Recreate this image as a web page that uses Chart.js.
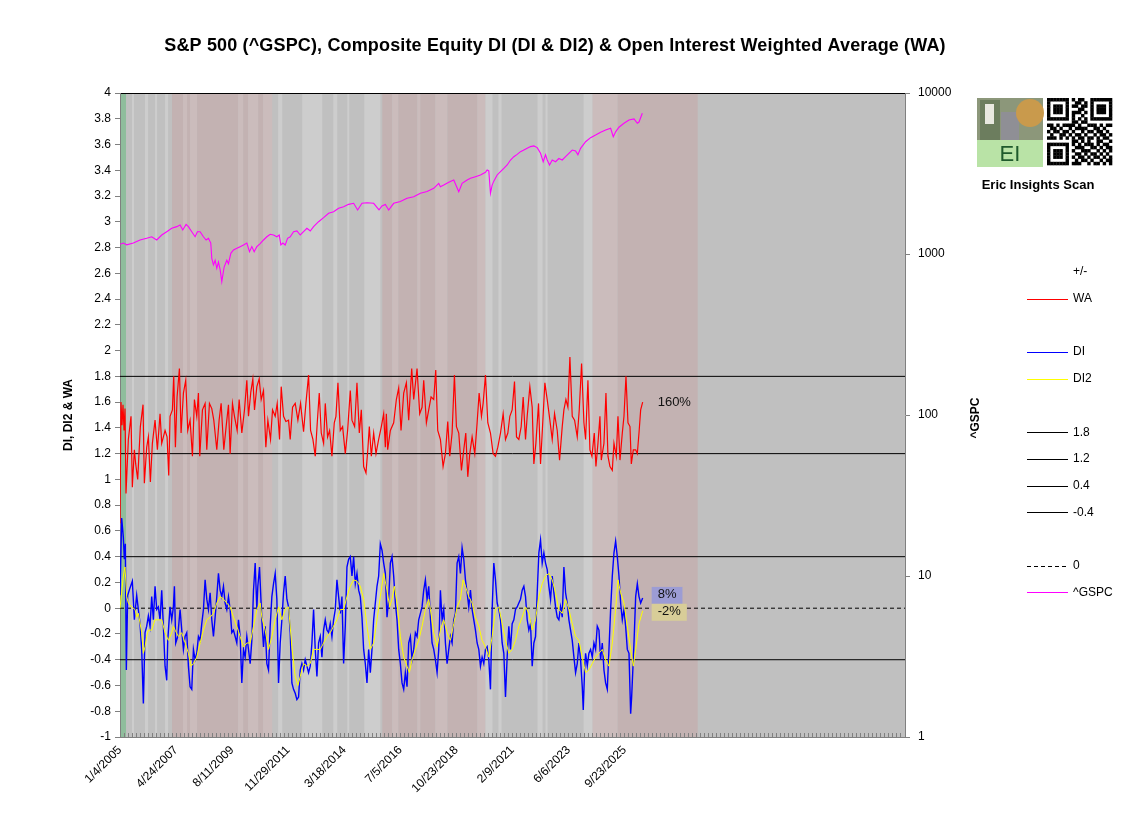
<!DOCTYPE html>
<html>
<head>
<meta charset="utf-8">
<script src="https://cdn.jsdelivr.net/npm/chart.js@4/dist/chart.umd.min.js"></script>
<style>
  html, body { margin: 0; background: #fff; }
  canvas { display: block; }
</style>
</head>
<body>
<canvas id="diChart" width="1138" height="825"></canvas>
<script>
// x values are calendar days counted from 1/4/2005
const xTickLabels = ['1/4/2005', '4/24/2007', '8/11/2009', '11/29/2011', '3/18/2014',
    '7/5/2016', '10/23/2018', '2/9/2021', '6/6/2023', '9/23/2025'];
const labelStepDays = 840;
const minorStepDays = 60;
const axisEndDays = 11760;
const leftTicksStep = 0.2;
const gspcTicks = [1, 10, 100, 1000, 10000];
const refLevels = [1.8, 1.2, 0.4, -0.4];
const zeroLevel = 0;

const waDays = [
    0, 15, 30, 45, 60, 75, 90, 125, 165, 185,
    215, 235, 265, 305, 345, 365, 400, 425, 455, 485,
    525, 560, 600, 625, 675, 705, 730, 750, 785, 805,
    830, 855, 890, 915, 950, 985, 1015, 1050, 1085, 1115,
    1150, 1175, 1195, 1235, 1275, 1300, 1340, 1375, 1405, 1450,
    1485, 1515, 1555, 1590, 1625, 1650, 1685, 1715, 1755, 1785,
    1825, 1865, 1900, 1925, 1960, 1990, 2015, 2050, 2085, 2115,
    2150, 2185, 2215, 2255, 2285, 2325, 2355, 2390, 2415, 2450,
    2485, 2525, 2550, 2585, 2625, 2665, 2705, 2750, 2785, 2825,
    2855, 2890, 2925, 2955, 2985, 3015, 3050, 3075, 3110, 3140,
    3175, 3210, 3235, 3265, 3300, 3335, 3375, 3410, 3450, 3475,
    3515, 3550, 3585, 3615, 3650, 3685, 3715, 3735, 3765, 3800,
    3835, 3875, 3915, 3950, 3975, 3990, 4010, 4050, 4100, 4140,
    4175, 4210, 4250, 4290, 4325, 4370, 4400, 4450, 4490, 4525,
    4550, 4590, 4625, 4660, 4700, 4730, 4760, 4800, 4840, 4875,
    4910, 4940, 4975, 5010, 5040, 5075, 5115, 5150, 5180, 5210,
    5240, 5275, 5315, 5350, 5380, 5415, 5440, 5475, 5510, 5550,
    5590, 5625, 5660, 5700, 5740, 5775, 5810, 5840, 5875, 5910,
    5940, 5975, 6010, 6040, 6075, 6100, 6140, 6175, 6200, 6230,
    6270, 6300, 6330, 6365, 6400, 6440, 6475, 6510, 6550, 6585,
    6625, 6650, 6680, 6710, 6740, 6775, 6810, 6850, 6880, 6915,
    6950, 6975, 7010, 7040, 7070, 7105, 7130, 7160, 7190, 7210,
    7250, 7280, 7310, 7340, 7375, 7400, 7435, 7460, 7490, 7525,
    7550, 7580, 7610, 7640, 7660, 7690, 7725, 7750, 7775, 7800,
    7830
];
const waValues = [
    0.66, 1.60, 1.42, 1.58, 1.38, 1.55, 0.89, 1.31, 1.49, 0.94,
    1.23, 1.12, 1.00, 1.41, 1.58, 0.97, 1.25, 1.33, 0.98, 1.28,
    1.46, 1.23, 1.51, 1.28, 1.38, 1.33, 1.03, 1.49, 1.54, 1.80,
    1.25, 1.64, 1.86, 1.36, 1.67, 1.77, 1.38, 1.46, 1.18, 1.62,
    1.49, 1.67, 1.18, 1.54, 1.59, 1.23, 1.59, 1.55, 1.46, 1.23,
    1.46, 1.59, 1.23, 1.41, 1.58, 1.20, 1.59, 1.49, 1.38, 1.62,
    1.36, 1.54, 1.77, 1.49, 1.68, 1.78, 1.54, 1.72, 1.78, 1.62,
    1.69, 1.25, 1.46, 1.31, 1.54, 1.49, 1.59, 1.31, 1.72, 1.49,
    1.45, 1.46, 1.31, 1.56, 1.59, 1.46, 1.59, 1.37, 1.59, 1.81,
    1.38, 1.31, 1.18, 1.44, 1.67, 1.36, 1.28, 1.59, 1.33, 1.38,
    1.18, 1.44, 1.49, 1.75, 1.38, 1.41, 1.20, 1.38, 1.69, 1.46,
    1.41, 1.75, 1.36, 1.54, 1.10, 1.05, 1.25, 1.41, 1.18, 1.36,
    1.20, 1.31, 1.41, 1.51, 1.25, 1.51, 1.23, 1.38, 1.44, 1.62,
    1.71, 1.38, 1.67, 1.75, 1.46, 1.86, 1.62, 1.86, 1.51, 1.56,
    1.77, 1.44, 1.54, 1.64, 1.62, 1.85, 1.38, 1.31, 1.10, 1.20,
    1.45, 1.18, 1.36, 1.81, 1.41, 1.36, 1.07, 1.23, 1.36, 1.02,
    1.20, 1.33, 1.20, 1.44, 1.67, 1.49, 1.59, 1.81, 1.44, 1.36,
    1.20, 1.18, 1.25, 1.36, 1.51, 1.31, 1.36, 1.49, 1.54, 1.76,
    1.33, 1.31, 1.41, 1.64, 1.31, 1.49, 1.72, 1.56, 1.12, 1.28,
    1.59, 1.12, 1.41, 1.75, 1.62, 1.46, 1.31, 1.51, 1.38, 1.15,
    1.41, 1.54, 1.62, 1.56, 1.95, 1.49, 1.46, 1.33, 1.54, 1.90,
    1.44, 1.31, 1.77, 1.23, 1.18, 1.36, 1.10, 1.28, 1.49, 1.15,
    1.28, 1.67, 1.18, 1.10, 1.07, 1.28, 1.18, 1.49, 1.15, 1.36,
    1.49, 1.80, 1.44, 1.41, 1.12, 1.23, 1.23, 1.20, 1.36, 1.54,
    1.60
];

const diDays = [
    0, 25, 50, 65, 80, 95, 115, 145, 185, 215,
    250, 275, 300, 325, 350, 375, 400, 425, 450, 475,
    500, 525, 550, 575, 600, 625, 650, 675, 700, 715,
    750, 775, 800, 815, 835, 865, 900, 925, 950, 975,
    1000, 1025, 1050, 1075, 1100, 1125, 1150, 1175, 1200, 1225,
    1250, 1275, 1300, 1325, 1350, 1375, 1400, 1425, 1450, 1475,
    1500, 1525, 1550, 1575, 1600, 1625, 1650, 1675, 1700, 1725,
    1750, 1775, 1800, 1825, 1850, 1875, 1900, 1925, 1950, 1975,
    2000, 2025, 2050, 2065, 2090, 2125, 2150, 2175, 2200, 2225,
    2250, 2275, 2300, 2325, 2350, 2375, 2400, 2425, 2450, 2475,
    2500, 2525, 2550, 2575, 2600, 2625, 2650, 2675, 2700, 2725,
    2750, 2775, 2800, 2825, 2850, 2875, 2900, 2925, 2950, 2975,
    3000, 3025, 3050, 3075, 3100, 3125, 3150, 3175, 3200, 3225,
    3250, 3275, 3300, 3325, 3350, 3375, 3400, 3425, 3450, 3475,
    3500, 3525, 3550, 3575, 3600, 3625, 3650, 3675, 3700, 3725,
    3750, 3775, 3800, 3825, 3850, 3875, 3900, 3925, 3950, 3975,
    4000, 4025, 4050, 4075, 4100, 4125, 4150, 4175, 4200, 4225,
    4250, 4275, 4300, 4325, 4350, 4375, 4400, 4425, 4450, 4475,
    4500, 4525, 4550, 4575, 4600, 4625, 4650, 4675, 4700, 4725,
    4750, 4775, 4800, 4825, 4850, 4875, 4900, 4925, 4950, 4975,
    5000, 5025, 5050, 5075, 5100, 5125, 5150, 5175, 5200, 5225,
    5250, 5275, 5300, 5325, 5350, 5375, 5400, 5425, 5450, 5475,
    5500, 5525, 5550, 5575, 5600, 5625, 5650, 5675, 5700, 5725,
    5750, 5775, 5800, 5825, 5850, 5875, 5900, 5925, 5950, 5975,
    6000, 6025, 6050, 6075, 6100, 6125, 6150, 6175, 6200, 6225,
    6250, 6275, 6300, 6325, 6350, 6375, 6400, 6425, 6450, 6475,
    6500, 6525, 6550, 6575, 6600, 6625, 6650, 6675, 6700, 6725,
    6750, 6775, 6800, 6825, 6850, 6875, 6900, 6925, 6940, 6960,
    6975, 7000, 7025, 7050, 7075, 7100, 7125, 7150, 7175, 7200,
    7225, 7250, 7275, 7300, 7325, 7350, 7375, 7400, 7425, 7450,
    7475, 7500, 7525, 7550, 7575, 7600, 7625, 7650, 7665, 7685,
    7700, 7725, 7750, 7775, 7800, 7830
];
const diValues = [
    0.10, 0.70, 0.55, 0.38, 0.50, -0.48, 0.10, 0.15, 0.21, -0.09,
    0.10, -0.01, -0.12, -0.32, -0.74, -0.19, -0.14, -0.06, -0.14, 0.09,
    -0.09, 0.17, -0.01, 0.01, -0.09, 0.14, -0.14, -0.45, -0.56, -0.25,
    0.01, -0.09, 0.01, 0.17, -0.27, -0.22, -0.01, -0.17, -0.32, -0.22,
    -0.19, -0.45, -0.61, -0.63, -0.32, -0.40, -0.35, -0.22, -0.25, -0.12,
    -0.01, 0.22, 0.07, -0.01, 0.12, -0.09, -0.22, -0.07, 0.09, 0.27,
    0.14, 0.09, 0.17, 0.04, -0.01, 0.09, -0.01, -0.19, -0.17, -0.22,
    -0.27, -0.09, -0.22, -0.58, -0.32, -0.38, -0.22, -0.32, -0.43, -0.25,
    0.14, 0.35, -0.01, 0.17, 0.32, -0.09, -0.30, -0.14, -0.43, -0.48,
    -0.14, 0.09, 0.19, 0.27, 0.07, -0.58, -0.27, -0.09, 0.12, 0.25,
    0.07, 0.01, -0.19, -0.58, -0.63, -0.66, -0.71, -0.69, -0.48, -0.43,
    -0.48, -0.40, -0.45, -0.50, -0.45, -0.27, -0.01, -0.32, -0.53, -0.27,
    -0.22, -0.38, -0.17, -0.09, -0.17, -0.19, -0.12, -0.22, -0.09, -0.01,
    0.22, 0.09, -0.04, 0.09, -0.43, -0.14, 0.32, 0.38, 0.40, 0.25,
    0.40, 0.19, 0.27, 0.14, 0.09, -0.07, -0.32, -0.43, -0.58, -0.32,
    -0.50, -0.32, -0.09, 0.04, 0.17, 0.25, 0.50, 0.45, 0.35, 0.27,
    -0.07, 0.07, 0.35, 0.40, 0.25, 0.04, -0.09, -0.32, -0.43, -0.58,
    -0.63, -0.50, -0.61, -0.27, -0.22, -0.40, -0.32, -0.19, -0.22, -0.09,
    -0.04, 0.01, 0.14, 0.22, 0.07, 0.17, -0.07, -0.27, -0.32, -0.40,
    -0.50, -0.32, 0.14, -0.09, -0.01, -0.27, -0.43, -0.32, -0.22, -0.27,
    -0.09, -0.04, 0.35, 0.40, 0.27, 0.47, 0.38, 0.22, 0.12, 0.01,
    0.14, -0.01, -0.09, -0.17, -0.27, -0.32, -0.45, -0.38, -0.43, -0.32,
    -0.30, -0.40, -0.63, -0.01, 0.35, 0.22, 0.04, -0.01, -0.09, -0.27,
    -0.35, -0.69, -0.38, -0.14, -0.32, -0.12, -0.09, -0.01, 0.01, 0.04,
    0.07, 0.14, 0.17, 0.09, -0.09, -0.17, -0.12, -0.45, -0.27, -0.22,
    0.12, 0.43, 0.53, 0.35, 0.43, 0.35, 0.30, 0.17, 0.07, 0.25,
    0.12, 0.01, -0.07, -0.09, 0.01, -0.07, 0.32, 0.12, 0.04, -0.09,
    -0.17, -0.25, -0.38, -0.50, -0.43, -0.27, -0.40, -0.61, -0.79, -0.48,
    -0.35, -0.45, -0.35, -0.32, -0.38, -0.27, -0.32, -0.14, -0.17, -0.40,
    -0.27, -0.48, -0.58, -0.63, -0.32, -0.01, 0.25, 0.43, 0.52, 0.40,
    0.25, 0.04, -0.09, -0.01, -0.14, -0.32, -0.35, -0.82, -0.69, -0.45,
    -0.27, 0.09, 0.19, 0.09, 0.04, 0.08
];

const di2Days = [
    0, 50, 75, 100, 125, 175, 225, 250, 275, 325,
    350, 375, 400, 425, 475, 525, 575, 625, 675, 725,
    775, 800, 825, 875, 925, 975, 1025, 1065, 1100, 1150,
    1200, 1250, 1300, 1350, 1400, 1450, 1500, 1550, 1600, 1650,
    1700, 1750, 1800, 1850, 1900, 1950, 2000, 2050, 2100, 2125,
    2175, 2225, 2275, 2325, 2375, 2425, 2475, 2525, 2575, 2625,
    2665, 2700, 2750, 2800, 2850, 2900, 2950, 3000, 3050, 3100,
    3150, 3200, 3250, 3300, 3350, 3400, 3450, 3500, 3550, 3600,
    3650, 3700, 3750, 3800, 3850, 3900, 3950, 4000, 4040, 4075,
    4110, 4150, 4200, 4250, 4300, 4335, 4375, 4425, 4475, 4525,
    4575, 4625, 4650, 4700, 4750, 4800, 4850, 4900, 4950, 5000,
    5050, 5100, 5140, 5175, 5225, 5275, 5325, 5375, 5425, 5475,
    5525, 5575, 5625, 5675, 5725, 5775, 5825, 5875, 5925, 5975,
    6025, 6075, 6125, 6175, 6225, 6275, 6325, 6375, 6425, 6475,
    6525, 6575, 6625, 6675, 6725, 6775, 6825, 6875, 6925, 6975,
    7025, 7075, 7125, 7175, 7225, 7275, 7325, 7375, 7425, 7460,
    7500, 7550, 7600, 7650, 7690, 7725, 7775, 7830
];
const di2Values = [
    0.00, 0.25, 0.32, 0.09, 0.04, 0.01, -0.01, -0.07, -0.04, -0.19,
    -0.35, -0.30, -0.22, -0.17, -0.17, -0.09, -0.09, -0.09, -0.19, -0.25,
    -0.19, -0.14, -0.17, -0.22, -0.19, -0.27, -0.35, -0.45, -0.43, -0.38,
    -0.27, -0.17, -0.09, -0.07, -0.04, 0.04, 0.09, 0.07, 0.04, 0.01,
    -0.07, -0.14, -0.22, -0.30, -0.27, -0.27, -0.14, -0.01, 0.04, -0.07,
    -0.17, -0.32, -0.22, -0.09, 0.01, -0.09, -0.01, 0.01, -0.30, -0.53,
    -0.60, -0.53, -0.43, -0.45, -0.43, -0.32, -0.32, -0.32, -0.27, -0.22,
    -0.19, -0.14, -0.09, -0.01, -0.01, 0.09, 0.17, 0.22, 0.21, 0.17,
    0.07, -0.14, -0.32, -0.27, -0.09, 0.09, 0.27, 0.14, 0.01, 0.07,
    0.17, 0.04, -0.22, -0.38, -0.45, -0.50, -0.40, -0.32, -0.25, -0.14,
    -0.01, 0.07, -0.01, -0.19, -0.30, -0.17, -0.09, -0.19, -0.25, -0.12,
    0.01, 0.07, 0.22, 0.17, 0.09, 0.04, -0.07, -0.14, -0.25, -0.30,
    -0.38, -0.22, -0.01, 0.01, -0.12, -0.25, -0.35, -0.32, -0.25, -0.14,
    -0.07, 0.01, -0.04, -0.17, -0.09, 0.09, 0.19, 0.25, 0.27, 0.22,
    0.12, -0.01, -0.04, 0.07, -0.01, -0.12, -0.22, -0.25, -0.38, -0.50,
    -0.48, -0.43, -0.38, -0.35, -0.32, -0.40, -0.45, -0.27, -0.01, 0.22,
    0.12, 0.04, -0.14, -0.32, -0.45, -0.32, -0.12, -0.02
];

const gspcDays = [
    0, 50, 100, 200, 300, 400, 475, 550, 625, 700,
    775, 850, 900, 940, 990, 1025, 1075, 1125, 1160, 1200,
    1250, 1290, 1325, 1360, 1375, 1400, 1425, 1450, 1475, 1500,
    1525, 1560, 1600, 1625, 1660, 1700, 1750, 1800, 1850, 1900,
    1940, 1975, 2010, 2050, 2100, 2150, 2200, 2250, 2300, 2350,
    2385, 2410, 2440, 2475, 2510, 2550, 2600, 2650, 2700, 2750,
    2800, 2850, 2900, 2975, 3050, 3125, 3200, 3275, 3350, 3425,
    3500, 3560, 3625, 3700, 3800, 3880, 3925, 3975, 4025, 4100,
    4200, 4300, 4400, 4500, 4600, 4700, 4775, 4800, 4850, 4925,
    5000, 5075, 5125, 5200, 5250, 5325, 5400, 5475, 5500, 5525,
    5550, 5575, 5600, 5650, 5700, 5750, 5800, 5850, 5900, 5950,
    6000, 6050, 6100, 6150, 6200, 6250, 6300, 6340, 6375, 6400,
    6435, 6475, 6525, 6575, 6625, 6675, 6725, 6775, 6825, 6860,
    6900, 6975, 7050, 7125, 7200, 7275, 7350, 7390, 7425, 7475,
    7550, 7625, 7700, 7750, 7775, 7825
];
const gspcValues = [
    1148, 1170, 1140, 1170, 1222, 1252, 1280, 1222, 1312, 1376,
    1444, 1479, 1514, 1410, 1528, 1479, 1376, 1280, 1376, 1376,
    1280, 1222, 1252, 1170, 940, 855, 915, 815, 890, 800,
    673, 830, 915, 870, 1010, 1060, 1084, 1111, 1138, 1170,
    1033, 1111, 1033, 1111, 1160, 1222, 1280, 1325, 1312, 1280,
    1312, 1138, 1170, 1138, 1252, 1280, 1376, 1390, 1312, 1376,
    1444, 1390, 1479, 1587, 1681, 1789, 1828, 1921, 1968, 2034,
    2065, 1876, 2065, 2080, 2065, 1880, 1990, 2030, 1877, 2065,
    2120, 2218, 2270, 2383, 2443, 2558, 2748, 2620, 2680, 2788,
    2881, 2438, 2748, 2881, 2952, 3021, 3096, 3215, 3325, 3280,
    2383, 2680, 2835, 3096, 3245, 3404, 3572, 3836, 4021, 4159,
    4320, 4425, 4535, 4645, 4690, 4580, 4220, 3742, 4130, 3836,
    3572, 3836, 3742, 3920, 3836, 4021, 4220, 4425, 4370, 4130,
    4535, 4980, 5280, 5480, 5700, 5892, 6040, 5355, 5740, 6130,
    6485, 6797, 6900, 6485, 6600, 7480
];

// background shading bands
const bandStartDays = [0, 180, 375, 525, 675, 780, 945, 1005, 1050, 1155,
    1770, 1845, 1920, 2070, 2145, 2370, 2730, 3195, 3405, 3660,
    3930, 4080, 4170, 4455, 4500, 4725, 4905, 5355, 5475, 5670,
    6255, 6375, 6945, 7080, 7455];
const bandEndDays = [90, 210, 420, 555, 720, 945, 1005, 1050, 1155, 1770,
    1845, 1920, 2070, 2145, 2280, 2430, 3030, 3255, 3435, 3900,
    4080, 4170, 4455, 4500, 4725, 4905, 5355, 5475, 5580, 5715,
    6330, 6405, 7080, 7455, 8655];
const bandShade = ['green', 'light', 'light', 'light', 'light', 'pink', 'rose', 'pink', 'rose', 'pink',
    'rose', 'pink', 'rose', 'pink', 'rose', 'light', 'light', 'light', 'light', 'light',
    'pink', 'rose', 'pink', 'rose', 'pink', 'rose', 'pink', 'rose', 'light', 'light',
    'light', 'light', 'light', 'rose', 'pink'];

const FONT = 'Arial, "Liberation Sans", sans-serif';
const shadeColors = {
    green: '#8fbd9c',
    light: '#cdcdcd',
    pink: '#c3b2b2',
    rose: '#cbbcbc',
};

const qrRows = [
    '111111101011001111111', '100000100110101000001', '101110101101101011101',
    '101110100011001011101', '101110101110101011101', '100000101001001000001',
    '111111101010101111111', '000000001101100000000', '110101111010011101011',
    '011010010111100110100', '101101101001011011010', '010011010110100101101',
    '111010101011011010110', '000000001101010011001', '111111101010111010110',
    '100000100111001101011', '101110101001110010101', '101110100110101101010',
    '101110101011010110101', '100000100101101001011', '111111101110010110101',
];

(() => {
    const chartEl = document.getElementById('diChart');
    if (!chartEl || typeof Chart === 'undefined') {
        return;
    }

    const toPoints = (days, values) => days.map((d, i) => ({ x: d, y: values[i] }));
    const flatLine = (level) => [{ x: 0, y: level }, { x: axisEndDays, y: level }];

    const datasets = [
        { label: 'DI2', data: toPoints(di2Days, di2Values), borderColor: '#ffff00', borderWidth: 1, order: 0 },
        { label: 'DI', data: toPoints(diDays, diValues), borderColor: '#0000ff', borderWidth: 1.4, order: 1 },
        { label: 'WA', data: toPoints(waDays, waValues), borderColor: '#ff0000', borderWidth: 1.2, order: 2 },
        { label: '^GSPC', data: toPoints(gspcDays, gspcValues), borderColor: '#ff00ff', borderWidth: 1.1, yAxisID: 'yR', order: 3 },
        ...refLevels.map((lvl) => ({
            label: String(lvl), data: flatLine(lvl), borderColor: '#000000', borderWidth: 1, order: 4,
        })),
        { label: String(zeroLevel), data: flatLine(zeroLevel), borderColor: '#000000', borderWidth: 1, borderDash: [4, 3], order: 4 },
    ];

    const endLabels = [
        { label: 'WA', dx: 15, dy: 0, bg: null },
        { label: 'DI', dx: 9, dy: -3, bg: '#9c9cd4' },
        { label: 'DI2', dx: 9, dy: 1, bg: '#d8cd98' },
    ];

    const legendOrder = ['WA', 'DI', 'DI2', '1.8', '1.2', '0.4', '-0.4', '0', '^GSPC'];
    const legendSlots = [1, 3, 4, 6, 7, 8, 9, 11, 12];

    const drawLogo = (ctx) => {
        ctx.fillStyle = '#8c977a';
        ctx.fillRect(977, 98, 66, 42);
        ctx.fillStyle = '#6c7d5e';
        ctx.fillRect(980, 100, 20, 40);
        ctx.fillStyle = '#e8e8e0';
        ctx.fillRect(985, 104, 9, 20);
        ctx.fillStyle = '#8f8f95';
        ctx.fillRect(1001, 112, 18, 28);
        ctx.fillStyle = '#c99a4c';
        ctx.beginPath();
        ctx.arc(1030, 113, 14, 0, Math.PI * 2);
        ctx.fill();
        ctx.fillStyle = '#b9e3a6';
        ctx.fillRect(977, 140, 66, 27);
        ctx.fillStyle = '#1f5a2c';
        ctx.font = `22px ${FONT}`;
        ctx.textAlign = 'center';
        ctx.textBaseline = 'middle';
        ctx.fillText('EI', 1010, 155);

        const cell = 65 / 21;
        ctx.fillStyle = '#ffffff';
        ctx.fillRect(1047, 98, 65, 67);
        ctx.fillStyle = '#000000';
        qrRows.forEach((row, r) => {
            [...row].forEach((bit, c) => {
                if (bit === '1') {
                    ctx.fillRect(1047 + c * cell, 98 + r * (67 / 21), cell + 0.3, 67 / 21 + 0.3);
                }
            });
        });

        ctx.font = `bold 13px ${FONT}`;
        ctx.fillText('Eric Insights Scan', 1038, 185);
    };

    const overlay = {
        id: 'overlay',
        beforeDraw(chart) {
            const { ctx, chartArea: area, scales: { x } } = chart;
            ctx.save();
            ctx.fillStyle = '#c0c0c0';
            ctx.fillRect(area.left, area.top, area.width, area.height);
            bandStartDays.forEach((start, i) => {
                const x0 = x.getPixelForValue(start);
                const x1 = x.getPixelForValue(bandEndDays[i]);
                ctx.fillStyle = shadeColors[bandShade[i]];
                ctx.fillRect(x0, area.top, x1 - x0, area.height);
            });
            ctx.restore();
        },
        afterDraw(chart) {
            const { ctx } = chart;
            const sets = chart.data.datasets;
            ctx.save();

            ctx.fillStyle = '#000000';
            ctx.textAlign = 'center';
            ctx.textBaseline = 'middle';
            ctx.font = `bold 18px ${FONT}`;
            if ('letterSpacing' in ctx) {
                ctx.letterSpacing = '0.15px';
            }
            ctx.fillText('S&P 500 (^GSPC), Composite Equity DI (DI & DI2) & Open Interest Weighted Average (WA)', 555, 46);
            if ('letterSpacing' in ctx) {
                ctx.letterSpacing = '0px';
            }

            ctx.save();
            ctx.translate(976, 418);
            ctx.rotate(-Math.PI / 2);
            ctx.font = `bold 12px ${FONT}`;
            ctx.fillText('^GSPC', 0, 0);
            ctx.restore();

            // legend
            ctx.font = `12px ${FONT}`;
            ctx.textAlign = 'left';
            ctx.fillText('+/-', 1073, 272);
            legendOrder.forEach((name, i) => {
                const ds = sets.find((d) => d.label === name);
                const y = 272 + legendSlots[i] * 26.7;
                ctx.strokeStyle = ds.borderColor;
                ctx.lineWidth = 1;
                ctx.setLineDash(ds.borderDash || []);
                ctx.beginPath();
                ctx.moveTo(1027, Math.round(y) + 0.5);
                ctx.lineTo(1068, Math.round(y) + 0.5);
                ctx.stroke();
                ctx.setLineDash([]);
                ctx.fillStyle = '#000000';
                ctx.fillText(name, 1073, y);
            });

            // values at the end of each series
            endLabels.forEach((lab) => {
                const idx = sets.findIndex((d) => d.label === lab.label);
                const pts = chart.getDatasetMeta(idx).data;
                const last = pts[pts.length - 1];
                const val = sets[idx].data[sets[idx].data.length - 1].y;
                const text = `${Math.round(val * 100)}%`;
                ctx.font = `13px ${FONT}`;
                const w = ctx.measureText(text).width;
                const left = last.x + lab.dx;
                const cy = last.y + lab.dy;
                if (lab.bg) {
                    ctx.fillStyle = lab.bg;
                    ctx.fillRect(left, cy - 8, w + 12, 17);
                    ctx.fillStyle = '#111111';
                    ctx.textAlign = 'center';
                    ctx.fillText(text, left + (w + 12) / 2, cy);
                } else {
                    ctx.fillStyle = '#111111';
                    ctx.textAlign = 'left';
                    ctx.fillText(text, left, cy);
                }
            });

            drawLogo(ctx);
            ctx.restore();
        },
    };

    const tickFont = { family: FONT, size: 12 };

    new Chart(chartEl.getContext('2d'), {
        type: 'line',
        data: { datasets },
        plugins: [overlay],
        options: {
            responsive: false,
            animation: false,
            devicePixelRatio: 1,
            parsing: false,
            layout: { padding: { top: 93, left: 0, right: 0, bottom: 0 } },
            elements: {
                point: { radius: 0 },
                line: { tension: 0, fill: false },
            },
            plugins: {
                legend: { display: false },
                tooltip: { enabled: false },
            },
            scales: {
                x: {
                    type: 'linear',
                    min: 0,
                    max: axisEndDays,
                    afterFit: (scale) => { scale.height = 88; },
                    grid: { drawOnChartArea: false, tickLength: -4, tickColor: '#808080' },
                    border: { color: '#808080' },
                    ticks: {
                        stepSize: minorStepDays,
                        maxTicksLimit: 1000,
                        autoSkip: false,
                        minRotation: 45,
                        maxRotation: 45,
                        padding: 10,
                        color: '#000000',
                        font: tickFont,
                        callback: (v) => (v % labelStepDays === 0 ? (xTickLabels[v / labelStepDays] || '') : ''),
                    },
                },
                y: {
                    position: 'left',
                    min: -1,
                    max: 4,
                    afterFit: (scale) => { scale.width = 120; },
                    grid: {
                        color: (c) => (c.tick && c.tick.value === 4 ? '#000000' : 'rgba(0,0,0,0)'),
                        tickColor: '#808080',
                        tickLength: 5,
                    },
                    border: { color: '#808080' },
                    ticks: {
                        stepSize: leftTicksStep,
                        padding: 4,
                        color: '#000000',
                        font: tickFont,
                        callback: (v) => String(Number(v.toFixed(1))),
                    },
                    title: {
                        display: true,
                        text: 'DI, DI2 & WA',
                        color: '#000000',
                        font: { family: FONT, size: 12, weight: 'bold' },
                        padding: { top: 61, bottom: 0 },
                    },
                },
                yR: {
                    type: 'logarithmic',
                    position: 'right',
                    min: 1,
                    max: 10000,
                    afterFit: (scale) => { scale.width = 233; },
                    afterBuildTicks: (scale) => { scale.ticks = gspcTicks.map((v) => ({ value: v })); },
                    grid: { drawOnChartArea: false, tickColor: '#808080', tickLength: 5 },
                    border: { color: '#808080' },
                    ticks: {
                        padding: 8,
                        color: '#000000',
                        font: tickFont,
                        callback: (v) => String(v),
                    },
                },
            },
        },
    });
})();
</script>
</body>
</html>
